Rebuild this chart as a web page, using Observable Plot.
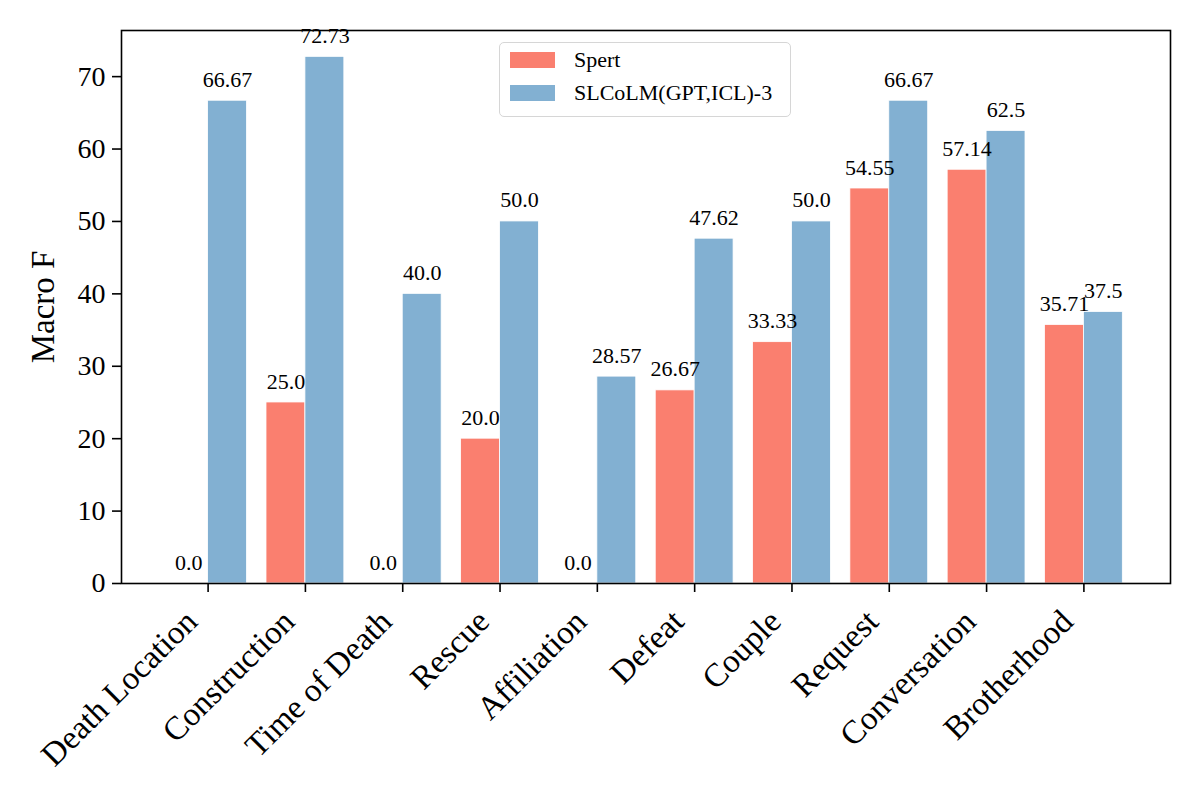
<!DOCTYPE html>
<html>
<head>
<meta charset="utf-8">
<script src="https://cdn.jsdelivr.net/npm/d3@7"></script>
<script src="https://cdn.jsdelivr.net/npm/@observablehq/plot@0.6"></script>
<style>
  html, body { margin: 0; padding: 0; background: #fff; }
  #wrap { position: relative; width: 1200px; height: 800px; font-family: "Times New Roman", "Liberation Serif", serif; }
  #legend { position: absolute; left: 499px; top: 42px; width: 290px; height: 73px; border: 1.5px solid #d6d6d6; border-radius: 5px; background: rgba(255,255,255,0.85); box-sizing: content-box; }
  .row { position: absolute; left: 10px; height: 16px; display: flex; align-items: center; }
  .sw { width: 45px; height: 16px; }
  .lb { margin-left: 19px; font-size: 22px; color: #000; white-space: nowrap; line-height: 16px; }
</style>
</head>
<body>
<div id="wrap"></div>
<script>
const categories = ["Death Location","Construction","Time of Death","Rescue","Affiliation","Defeat","Couple","Request","Conversation","Brotherhood"];
const spert = [0.0, 25.0, 0.0, 20.0, 0.0, 26.67, 33.33, 54.55, 57.14, 35.71];
const slcolm = [66.67, 72.73, 40.0, 50.0, 28.57, 47.62, 50.0, 66.67, 62.5, 37.5];
const seriesNames = ["Spert", "SLCoLM(GPT,ICL)-3"];
const colors = ["#FA7F6F", "#82B0D2"];
const yTicks = [0, 10, 20, 30, 40, 50, 60, 70];

const rows = categories.map((c, i) => ({cat: c, i, spert: spert[i], slcolm: slcolm[i]}));
const fmt = v => Number.isInteger(v) ? v.toFixed(1) : String(v);
const font = '"Times New Roman", "Liberation Serif", serif';
const W = 0.4;

const chart = Plot.plot({
  width: 1200,
  height: 800,
  marginLeft: 121,
  marginRight: 30,
  marginTop: 30,
  marginBottom: 217,
  style: {fontFamily: font, background: "white", color: "black"},
  x: {type: "linear", domain: [-0.89, 9.89], axis: null},
  y: {domain: [0, 76.37], axis: null},
  marks: [
    Plot.rectY(rows, {x1: d => d.i - W, x2: d => d.i, y: "spert", fill: colors[0], stroke: "white", strokeWidth: 0.8}),
    Plot.rectY(rows, {x1: d => d.i, x2: d => d.i + W, y: "slcolm", fill: colors[1], stroke: "white", strokeWidth: 0.8}),
    Plot.text(rows, {x: d => d.i - W / 2, y: "spert", text: d => fmt(d.spert), dy: -21, fontSize: 22, fill: "black"}),
    Plot.text(rows, {x: d => d.i + W / 2, y: "slcolm", text: d => fmt(d.slcolm), dy: -21, fontSize: 22, fill: "black"}),
    Plot.axisY({ticks: yTicks, tickSize: 9, tickPadding: 7, fontSize: 28, strokeWidth: 1.6, label: null, tickFormat: d => String(d)}),
    Plot.axisX({ticks: rows.map(d => d.i), tickSize: 9, strokeWidth: 1.6, tickFormat: () => "", label: null}),
    Plot.text(rows, {x: "i", text: "cat", frameAnchor: "bottom", rotate: -45, textAnchor: "end", dx: -9, dy: 40, fontSize: 33, fill: "black"}),
    Plot.text(["Macro F"], {frameAnchor: "left", text: d => d, rotate: -90, textAnchor: "middle", dx: -78, dy: 0, fontSize: 33, fill: "black"}),
    Plot.frame({stroke: "black", strokeWidth: 1.6})
  ]
});

const wrap = document.getElementById("wrap");
wrap.appendChild(chart);

const legend = document.createElement("div");
legend.id = "legend";
seriesNames.forEach((name, k) => {
  const row = document.createElement("div");
  row.className = "row";
  row.style.top = (9 + k * 33) + "px";
  const sw = document.createElement("div");
  sw.className = "sw";
  sw.style.background = colors[k];
  const lb = document.createElement("span");
  lb.className = "lb";
  lb.textContent = name;
  row.appendChild(sw);
  row.appendChild(lb);
  legend.appendChild(row);
});
wrap.appendChild(legend);
</script>
</body>
</html>
